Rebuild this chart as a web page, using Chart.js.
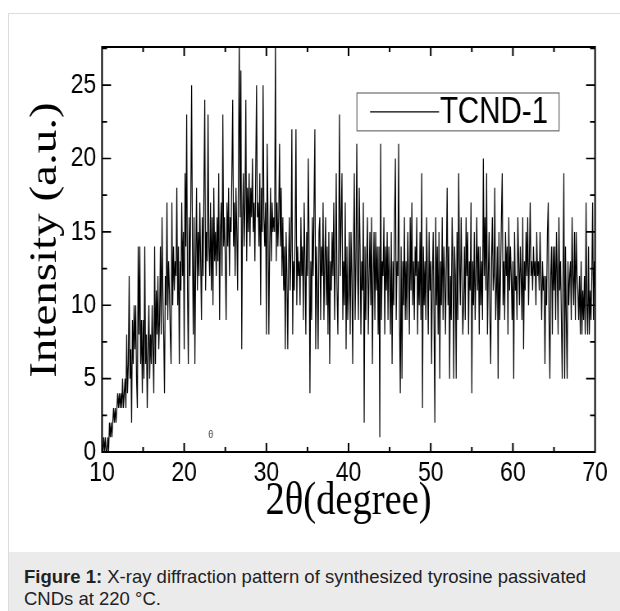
<!DOCTYPE html>
<html><head><meta charset="utf-8">
<script src="https://cdn.jsdelivr.net/npm/chart.js@4"></script>
<style>
html,body{margin:0;padding:0;background:#fff;width:620px;height:611px;overflow:hidden}
#fig{position:absolute;left:8px;top:13px;width:620px;height:598px;border-left:1px solid #dcdcdc;border-top:1px solid #dcdcdc;box-sizing:border-box}
#cap{position:absolute;left:0;top:538px;width:100%;height:60px;background:#ebebeb;font-family:Arial,"Liberation Sans",sans-serif;font-size:18.5px;line-height:22px;color:#222;padding:14px 0 0 15px;box-sizing:border-box}
#c{position:absolute;left:0;top:0}
</style></head><body>
<div id="fig"><div id="cap"><b>Figure 1:</b> X-ray diffraction pattern of synthesized tyrosine passivated<br>CNDs at 220 °C.</div></div>
<canvas id="c" width="756" height="551" style="width:620px;height:551px"></canvas>
<script>
const seriesLabel = 'TCND-1';
const xTitle = '2θ(degree)';
const yTitle = '\u2009\u2009Intensity (a.u.)';
const scanStart = 10;
const scanStep = 0.1;
const xRange = [10, 70];
const yRange = [0, 27.6];
const xTickStep = 10;
const yTickStep = 5;
const intensity = [
 0,0,1,0,1,0,0,1,0,2,
 1,2,1,2,3,2,3,2,3,4,
 3,4,3,4,3,5,3,4,5,3,
 8,4,6,12,5,7,2,9,6,10,
 7,10,5,3,14,8,14,6,9,4,
 9,5,14,6,8,3,7,10,5,8,
 6,10,7,4,14,6,11,8,12,7,
 9,14,8,16,11,8,4,12,10,17,
 9,13,11,8,6,17,10,14,11,13,
 12,18,10,14,6,13,11,17,12,15,
 7,19,14,23,11,6,16,12,17,25,
 14,8,16,6,13,18,11,15,12,17,
 13,9,16,12,18,24,11,15,13,23,
 14,12,17,11,16,10,18,13,15,12,
 16,13,19,9,15,17,12,23,14,16,
 13,9,17,14,18,12,16,15,19,24,
 14,17,12,18,15,11,19,28,16,26,
 7,16,19,14,17,24,13,18,15,19,
 14,18,16,20,15,17,13,19,25,16,
 17,14,19,10,18,15,25,16,14,17,
 8,21,16,8,14,18,13,17,15,16,
 15,28,13,17,14,16,21,14,18,12,
 16,11,14,7,15,12,7,13,16,11,
 14,22,8,13,11,15,22,10,14,12,
 13,10,16,12,14,9,17,13,8,15,
 12,20,14,4,13,9,16,12,17,22,
 7,14,11,7,15,16,9,14,12,17,
 9,13,16,10,14,8,15,6,13,11,
 15,12,17,9,13,19,11,8,14,23,
 12,16,19,9,13,10,17,7,14,9,
 11,15,8,15,12,6,14,19,9,13,
 21,12,9,18,14,8,13,11,17,2,
 14,9,13,16,8,12,15,10,16,6,
 12,15,9,15,11,14,8,14,1,21,
 9,13,12,16,8,14,11,15,9,14,
 12,8,15,6,13,10,16,20,9,13,
 12,21,9,4,14,5,13,10,16,9,
 13,9,15,12,8,16,11,17,10,13,
 9,14,12,16,8,13,10,15,9,19,
 3,14,10,13,9,16,12,8,15,11,
 13,6,12,15,9,2,16,10,14,8,
 15,5,13,10,16,9,14,12,8,13,
 18,10,14,5,12,9,16,13,5,14,
 12,5,15,9,19,13,10,16,12,8,
 10,14,9,16,12,15,8,13,11,17,
 4,13,10,15,9,12,16,11,14,8,
 14,10,13,9,20,12,16,11,19,8,
 12,15,9,6,13,16,11,12,18,9,
 11,14,5,15,9,12,16,19,10,13,
 9,15,12,14,8,16,11,14,12,9,
 13,5,15,11,12,9,16,13,10,14,
 12,9,16,7,13,11,15,12,16,10,
 13,17,12,13,11,14,12,13,10,15,
 12,13,11,15,12,9,13,11,12,6,
 12,10,15,17,9,5,12,14,8,14,
 11,14,9,15,12,8,16,11,13,9,
 5,12,19,5,14,9,5,13,10,12,
 13,9,16,12,10,15,9,15,12,11,
 9,12,8,13,8,11,9,12,8,17,
 10,8,14,8,11,9,12,17,9,13,
 11
];
const strayMark = {text: 'θ', x: 23.25, y: 1.15};

const points = intensity.map((v, i) => ({x: +(scanStart + i * scanStep).toFixed(2), y: v}));

const SX = 620 / 756; // horizontal compression of the original figure
const sans = '"Liberation Sans", Arial, sans-serif';
const serif = '"Liberation Serif", "Times New Roman", serif';

function zeroPad(s) { s.paddingLeft = 0; s.paddingRight = 0; s.paddingTop = 0; s.paddingBottom = 0; }

const frameTicks = {
  id: 'frameTicks',
  afterDatasetsDraw(chart) {
    const {ctx, chartArea: a, scales: {x, y}} = chart;
    ctx.save();
    ctx.strokeStyle = '#000';
    ctx.lineWidth = 2;
    for (let v = xRange[0] + 5; v < xRange[1]; v += 5) {
      const px = x.getPixelForValue(v);
      const L = (v % 10 === 0) ? 9 : 5;
      ctx.beginPath();
      ctx.moveTo(px, a.bottom); ctx.lineTo(px, a.bottom - L);
      ctx.moveTo(px, a.top); ctx.lineTo(px, a.top + L);
      ctx.stroke();
    }
    ctx.lineWidth = 1.7;
    for (let v = 2.5; v < yRange[1]; v += 2.5) {
      const py = y.getPixelForValue(v);
      const L = ((v % 5 === 0) ? 9 : 5) / SX;
      ctx.beginPath();
      ctx.moveTo(a.left, py); ctx.lineTo(a.left + L, py);
      ctx.moveTo(a.right, py); ctx.lineTo(a.right - L, py);
      ctx.stroke();
    }
    ctx.lineWidth = 2;
    ctx.strokeRect(a.left, a.top, a.right - a.left, a.bottom - a.top);

    // legend
    const W = a.right - a.left, H = a.bottom - a.top;
    const bx0 = a.left + 0.517 * W, bx1 = a.left + 0.927 * W;
    const by0 = a.top + 0.1136 * H, by1 = a.top + 0.207 * H;
    ctx.strokeStyle = '#777';
    ctx.lineWidth = 1.3;
    ctx.strokeRect(bx0, by0, bx1 - bx0, by1 - by0);
    const ly = (by0 + by1) / 2;
    ctx.strokeStyle = '#000';
    ctx.lineWidth = 1.2;
    ctx.beginPath();
    ctx.moveTo(a.left + 0.5436 * W, ly); ctx.lineTo(a.left + 0.6836 * W, ly);
    ctx.stroke();
    ctx.fillStyle = '#000';
    ctx.font = '36px ' + sans;
    ctx.textBaseline = 'middle';
    ctx.textAlign = 'left';
    ctx.fillText(chart.data.datasets[0].label, a.left + 0.6836 * W + 1, ly + 1);

    // small stray mark near the baseline
    ctx.fillStyle = '#444';
    ctx.font = '11px ' + sans;
    ctx.textAlign = 'center';
    ctx.fillText(strayMark.text, x.getPixelForValue(strayMark.x), y.getPixelForValue(strayMark.y));
    ctx.restore();
  }
};

new Chart(document.getElementById('c'), {
  type: 'line',
  data: {
    datasets: [{
      label: seriesLabel,
      data: points,
      borderColor: '#000',
      borderWidth: 1.2,
      pointRadius: 0,
      tension: 0,
      fill: false
    }]
  },
  options: {
    responsive: false,
    devicePixelRatio: 1,
    animation: false,
    events: [],
    layout: {padding: {left: 0, right: 30.4, top: 47, bottom: 0}},
    plugins: {legend: {display: false}, tooltip: {enabled: false}},
    scales: {
      x: {
        type: 'linear', min: xRange[0], max: xRange[1],
        afterFit(s) { s.height = 99; zeroPad(s); },
        grid: {display: false, drawTicks: false},
        border: {display: false},
        ticks: {stepSize: xTickStep, color: '#000', font: {family: sans, size: 28}, padding: 4, maxRotation: 0, autoSkip: false},
        title: {display: true, text: xTitle, color: '#000', font: {family: serif, size: 47, lineHeight: 1}, padding: {top: 0, bottom: 26}}
      },
      y: {
        type: 'linear', min: yRange[0], max: yRange[1],
        afterFit(s) { s.width = 124.4; zeroPad(s); },
        grid: {display: false, drawTicks: false},
        border: {display: false},
        ticks: {stepSize: yTickStep, includeBounds: false, color: '#000', font: {family: sans, size: 28}, padding: 7},
        title: {display: true, text: yTitle, color: '#000', font: {family: serif, size: 47, lineHeight: 1}, padding: {top: 32, bottom: 0}}
      }
    }
  },
  plugins: [frameTicks]
});
</script></body></html>
